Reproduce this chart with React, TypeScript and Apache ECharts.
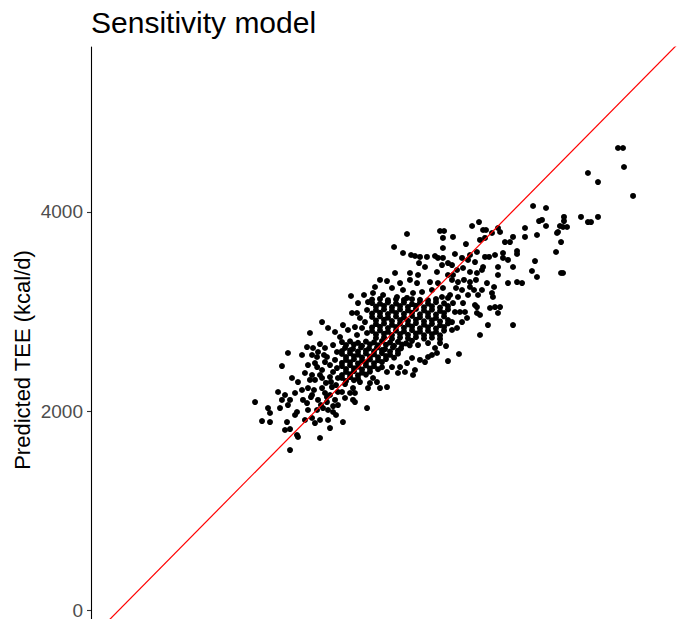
import React, { useEffect, useRef } from "react";
import * as echarts from "echarts";

const lowerTail: number[][] = [
  [1914, 2643], [1975, 2633], [2046, 2673], [2097, 2633], [2179, 2663], [1720, 2583], [1863, 2563], [1965, 2563],
  [2016, 2543], [2117, 2543], [1924, 2462], [1659, 2452], [1995, 2482], [2067, 2412], [1893, 2382], [1965, 2362],
  [1761, 2332], [1822, 2291], [1995, 2312], [2067, 2332], [2148, 2342], [1619, 2191], [1792, 2181], [1863, 2211],
  [1924, 2231], [1965, 2161], [2067, 2231], [2097, 2181], [2168, 2241], [1690, 2161], [1741, 2111], [1659, 2111],
  [1385, 2090], [1873, 2111], [1914, 2080], [2026, 2111], [2117, 2090], [2199, 2111], [1517, 2030], [1639, 2030],
  [1720, 2060], [1812, 1990], [1792, 1960], [1924, 2010], [2016, 2010], [2077, 2030], [2179, 1990], [1537, 1980],
  [1456, 1899], [1537, 1889], [1710, 1889], [1893, 1910], [1965, 1930], [2046, 1910], [2128, 1910], [1995, 1879],
  [1690, 1809], [1741, 1819], [1812, 1759], [1822, 1739], [2046, 1729], [2148, 1829], [1741, 1608],
  [2219, 2593], [2199, 2513], [2148, 2462], [2219, 2432], [2179, 2392], [2229, 2332], [2209, 2261], [2229, 2191],
  [2148, 2161], [2229, 2060], [2209, 1960], [2128, 2010],
  [2026, 2593], [2097, 2492], [1944, 2312], [2107, 2282], [2046, 2362], [2158, 2292], [2017, 2442], [2087, 2563],
  [1985, 2211], [2117, 2140], [2056, 2060], [1954, 2140], [2180, 2050],
];

const lowerCore: number[][] = [
  [2861, 2442], [2932, 2482], [2983, 2533], [2911, 2392], [2840, 2382], [2993, 2362], [3013, 2412], [3064, 2513],
  [3115, 2492], [3146, 2543], [3186, 2563], [3044, 2663], [3146, 2683], [2779, 2442], [2728, 2392], [2586, 2332],
  [2555, 2281], [2626, 2291], [2657, 2231], [2728, 2241], [2535, 2231], [2453, 2291], [2382, 2231], [2352, 2181],
  [2402, 2181], [2270, 2191], [2301, 2131], [2382, 2111], [2402, 2090], [2525, 2030], [2280, 1889],
  [2270, 2693], [2352, 2700], [2433, 2685], [2514, 2698], [2596, 2690], [2677, 2702], [2759, 2688], [2840, 2695],
  [2922, 2680], [2983, 2705], [2301, 2633], [2382, 2625], [2464, 2640], [2545, 2628], [2626, 2636], [2708, 2622],
  [2789, 2640], [2871, 2630], [2270, 2573], [2352, 2580], [2433, 2566], [2514, 2578], [2596, 2570], [2677, 2582],
  [2759, 2565], [2840, 2576], [2311, 2513], [2392, 2520], [2474, 2506], [2555, 2518], [2637, 2510], [2718, 2522],
  [2270, 2452], [2352, 2460], [2433, 2445], [2514, 2458], [2596, 2450], [2677, 2440], [2311, 2392], [2392, 2400],
  [2474, 2385], [2555, 2396], [2270, 2332], [2352, 2340], [2433, 2325], [2301, 2271],
  [2311, 2663], [2392, 2668], [2474, 2656], [2555, 2670], [2637, 2660], [2718, 2666], [2800, 2655], [2881, 2668],
  [2960, 2660], [2270, 2603], [2352, 2610], [2433, 2598], [2514, 2606], [2596, 2600], [2677, 2612], [2759, 2598],
  [2840, 2606], [2311, 2543], [2392, 2550], [2474, 2538], [2555, 2548], [2637, 2540], [2718, 2552], [2800, 2536],
  [2270, 2483], [2352, 2490], [2433, 2478], [2514, 2488], [2596, 2480], [2677, 2492], [2311, 2422], [2392, 2430],
  [2474, 2418], [2555, 2428], [2637, 2420], [2270, 2362], [2352, 2370], [2433, 2358], [2514, 2366], [2311, 2302],
  [2392, 2310],
  [3237, 2583], [3349, 2502], [3461, 2573], [3268, 2683], [3329, 2653], [3217, 2633],
];

const midCore: number[][] = [
  [2362, 3156], [2494, 3166], [2433, 3085], [2535, 3095], [2067, 2894], [2372, 2985], [2423, 2985], [2525, 3015],
  [2453, 2935], [2504, 2894], [2280, 2864], [2128, 2834], [1944, 2784], [2199, 2794], [2331, 2814], [2402, 2844],
  [2474, 2834], [2250, 2744], [2423, 2764], [2525, 2784],
  [3054, 3487], [3115, 3447], [3288, 3467], [3349, 3487], [2810, 3387], [2962, 3387], [3044, 3367], [3237, 3397],
  [3349, 3367], [2657, 3317], [2728, 3306], [2861, 3286], [2962, 3317], [3034, 3286], [3166, 3296], [3247, 3286],
  [2606, 3246], [2779, 3236], [2891, 3216], [2993, 3186], [3085, 3196], [3186, 3216], [3298, 3236], [2586, 3186],
  [2688, 3166], [2830, 3146], [2932, 3136], [3288, 3146], [3349, 3136],
  [2576, 3085], [2657, 3078], [2738, 3092], [2820, 3080], [2901, 3090], [2983, 3075], [3064, 3088], [3146, 3080],
  [3227, 3094], [3309, 3082], [2616, 3015], [2698, 3022], [2779, 3008], [2861, 3020], [2942, 3012], [3023, 3025],
  [3105, 3010], [3186, 3018], [3268, 3005], [3349, 3020], [2576, 2945], [2657, 2952], [2738, 2938], [2820, 2950],
  [2901, 2940], [2983, 2955], [3064, 2942], [3146, 2948], [3227, 2936], [3309, 2950], [2616, 2874], [2698, 2880],
  [2779, 2866], [2861, 2878], [2942, 2870], [3023, 2884], [3105, 2868], [3186, 2876], [3268, 2862], [3349, 2880],
  [2576, 2804], [2657, 2810], [2738, 2796], [2820, 2808], [2901, 2800], [2983, 2812], [3064, 2798], [3146, 2806],
  [3227, 2794], [3309, 2808], [2616, 2734], [2698, 2740], [2779, 2726], [2861, 2738], [2942, 2730], [3023, 2742],
  [3105, 2728], [3186, 2736], [3268, 2724],
  [2576, 3120], [2657, 3126], [2738, 3114], [2820, 3122], [2901, 3116], [2983, 3124], [3064, 3118], [3146, 3112],
  [3227, 3125], [2616, 3050], [2698, 3056], [2779, 3044], [2861, 3054], [2942, 3046], [3023, 3058], [3105, 3042],
  [3186, 3052], [3268, 3040], [3349, 3054], [2576, 2980], [2657, 2986], [2738, 2974], [2820, 2984], [2901, 2976],
  [2983, 2988], [3064, 2972], [3146, 2982], [3227, 2970], [3309, 2984], [2616, 2910], [2698, 2916], [2779, 2904],
  [2861, 2914], [2942, 2906], [3023, 2918], [3105, 2902], [3186, 2912], [3268, 2900], [3349, 2914], [2576, 2840],
  [2657, 2846], [2738, 2834], [2820, 2844], [2901, 2836], [2983, 2848], [3064, 2832], [3146, 2842], [3227, 2830],
  [3309, 2844], [2616, 2770], [2698, 2776], [2779, 2764], [2861, 2774], [2942, 2766], [3023, 2778], [3105, 2762],
  [3186, 2772], [3268, 2760],
];

const upperBand: number[][] = [
  [2932, 3779], [3268, 3809], [3309, 3809], [3298, 3739], [2800, 3648], [2891, 3588], [2973, 3568], [3013, 3558],
  [3064, 3548], [3135, 3548], [3217, 3558], [3298, 3638], [3247, 3538], [3298, 3538],
  [3665, 3899], [3594, 3859], [3706, 3819], [3736, 3819], [3858, 3839], [3879, 3799], [4133, 3839], [4133, 3749],
  [3400, 3749], [3675, 3719], [3726, 3739], [3797, 3789], [4011, 3749], [3929, 3698], [3980, 3698], [3532, 3678],
  [4052, 3608], [3420, 3578], [3573, 3568], [3644, 3598], [3726, 3548], [3767, 3548], [3828, 3568], [3909, 3588],
  [4052, 3578], [3492, 3538], [3553, 3518], [3624, 3497], [3909, 3538], [3960, 3518], [3706, 3447], [3695, 3417],
  [3858, 3447], [4011, 3447], [3390, 3467], [3441, 3417], [3502, 3437], [3573, 3397], [3644, 3387], [3858, 3367],
  [3400, 3367],
  [3960, 3286], [4052, 3296], [4103, 3286], [3797, 3186], [3807, 3146], [3400, 3085], [3502, 3085], [3624, 3065],
  [3644, 3045], [3777, 3035], [3828, 3045], [3879, 3045], [3858, 2985], [3420, 2995], [3471, 2995], [3522, 2995],
  [3644, 2985], [3675, 2965], [3543, 2935], [3492, 2894], [3390, 2894], [3441, 2834], [3390, 2814], [3756, 2864],
  [4011, 2864], [3675, 2764], [3553, 3166], [3655, 3166], [3695, 3216], [3573, 3246],
  [3390, 3317], [3451, 3296], [3512, 3317], [3573, 3296], [3634, 3317], [3431, 3236], [3492, 3216], [3614, 3216],
  [3370, 3166], [3451, 3146], [3746, 3286], [3818, 3246],
];

const upperTail: number[][] = [
  [5080, 4643], [5131, 4643], [5141, 4452], [4774, 4392], [4876, 4301], [5233, 4161], [4215, 4060], [4347, 4040],
  [4530, 3950], [4530, 3909], [4703, 3950], [4774, 3899], [4805, 3899], [4876, 3950], [4276, 3909], [4306, 3920],
  [4347, 3859], [4489, 3859], [4520, 3849], [4561, 3849], [4459, 3789], [4469, 3799], [4255, 3769], [4500, 3698],
  [4449, 3598], [4235, 3507], [4204, 3407], [4255, 3347], [4500, 3387], [4520, 3387],
];

const yTickValues = [0, 2000, 4000];
const X_MIN = -285;
const X_MAX = 5711;
const Y_MIN = -90;
const Y_MAX = 5658;

export default function App() {
  const ref = useRef<HTMLDivElement>(null);
  useEffect(() => {
    document.body.style.margin = "0";
    const chart = echarts.init(ref.current!, null, { renderer: "svg" });
    const points = [...lowerTail, ...lowerCore, ...midCore, ...upperBand, ...upperTail];
    chart.setOption({
      animation: false,
      title: {
        text: "Sensitivity model",
        left: 91,
        top: 7,
        padding: 0,
        textStyle: { fontFamily: "Liberation Sans", fontSize: 30, fontWeight: "normal", color: "#000" },
      },
      grid: { left: 91, top: 47, right: 0, bottom: 0, containLabel: false, outerBoundsMode: "none" },
      xAxis: { type: "value", min: X_MIN, max: X_MAX, show: false, splitLine: { show: false } },
      yAxis: {
        type: "value",
        min: Y_MIN,
        max: Y_MAX,
        axisLine: { show: true, onZero: false, lineStyle: { color: "#000", width: 1.1 } },
        axisTick: { show: true, customValues: yTickValues, length: 4, lineStyle: { color: "#333", width: 1.1 } },
        axisLabel: {
          customValues: yTickValues,
          formatter: (v: number) => String(v),
          color: "#4d4d4d",
          fontSize: 19,
          fontFamily: "Liberation Sans",
          margin: 8,
        },
        splitLine: { show: false },
      },
      graphic: [
        {
          type: "text",
          x: 22,
          y: 360,
          rotation: Math.PI / 2,
          style: {
            text: "Predicted TEE (kcal/d)",
            font: "22px 'Liberation Sans'",
            fill: "#000",
            textAlign: "center",
            textVerticalAlign: "middle",
          },
        },
      ],
      series: [
        {
          type: "scatter",
          data: points,
          symbolSize: 6,
          itemStyle: { color: "#000", opacity: 1 },
          z: 2,
        },
        {
          type: "line",
          data: [[X_MIN, X_MIN], [X_MAX, X_MAX]],
          symbol: "none",
          lineStyle: { color: "#ff0000", width: 1.2 },
          clip: true,
          z: 3,
        },
      ],
    });
    return () => chart.dispose();
  }, []);
  return <div ref={ref} style={{ width: 680, height: 619 }} />;
}
